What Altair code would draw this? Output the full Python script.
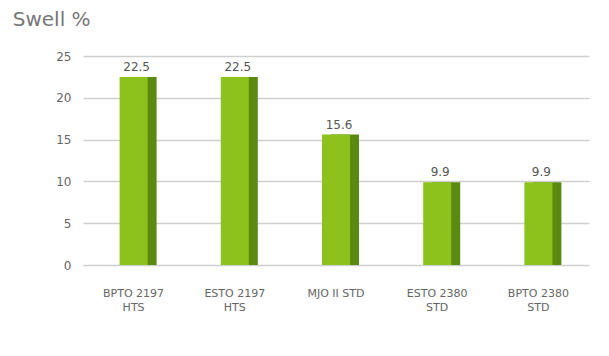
import altair as alt
import pandas as pd

categories = ["BPTO 2197\nHTS", "ESTO 2197\nHTS", "MJO II STD", "ESTO 2380\nSTD", "BPTO 2380\nSTD"]
swell = [22.5, 22.5, 15.6, 9.9, 9.9]

df = pd.DataFrame({"cat": categories, "swell": swell})

x = alt.X("cat:N", sort=categories, title=None,
          axis=alt.Axis(labelAngle=0, labelExpr="split(datum.label, '\\n')",
                        labelColor="#666", labelFontSize=11, labelFont="DejaVu Sans",
                        domain=False, ticks=False, labelPadding=22, labelLineHeight=14))
y = alt.Y("swell:Q", title=None, scale=alt.Scale(domain=[0, 25]),
          axis=alt.Axis(values=[0, 5, 10, 15, 20, 25], labelColor="#666", labelFontSize=12,
                        labelFont="DejaVu Sans", domain=False, ticks=False, labelPadding=12,
                        gridColor="#cfcfcf", gridWidth=1.5))

side = alt.Chart(df).mark_bar(color="#5a8a12", width=28, xOffset=9).encode(x=x, y=y)
front = alt.Chart(df).mark_bar(color="#8cc21c", width=28).encode(x=x, y=y)
labels = alt.Chart(df).mark_text(dy=-10, dx=3, color="#555", fontSize=12, font="DejaVu Sans").encode(
    x=x, y=y, text=alt.Text("swell:Q", format=".1f"))

chart = alt.layer(side, front, labels).properties(
    width=593, height=340,
    padding={"left": 4, "right": 12, "top": 2, "bottom": 36},
    title=alt.TitleParams("Swell %", anchor="start", color="#777", fontSize=20,
                          font="DejaVu Sans", fontWeight="normal", offset=20, dx=-43),
    autosize=alt.AutoSizeParams(type="fit", contains="padding"),
).configure_view(stroke=None)

chart.save("out.html", embed_options={"renderer": "svg", "actions": False})
